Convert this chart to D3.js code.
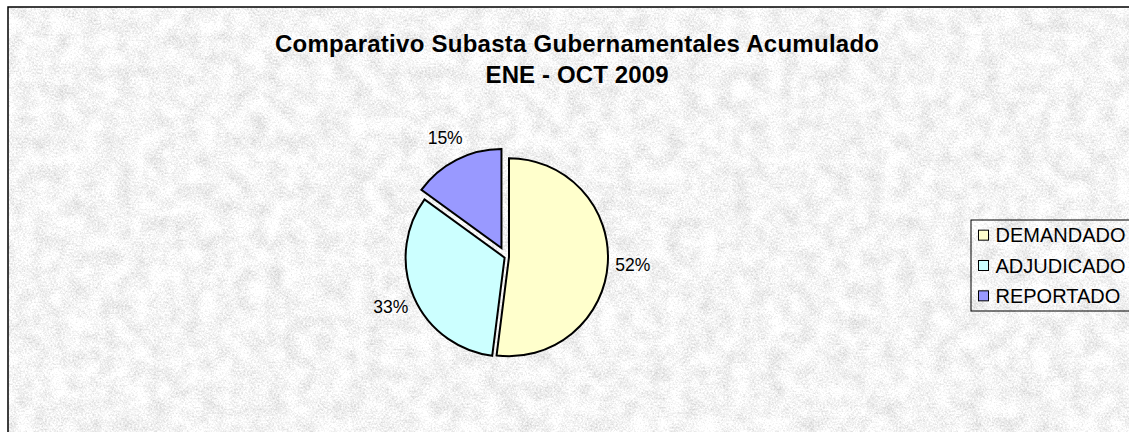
<!DOCTYPE html>
<html>
<head>
<meta charset="utf-8">
<script src="https://cdn.jsdelivr.net/npm/d3@7"></script>
<style>
  body { margin: 0; background: #fff; }
  svg text { font-family: "Liberation Sans", Arial, sans-serif; fill: #000; }
</style>
</head>
<body>
<div id="chart"></div>
<script>
// data
var categories = ["DEMANDADO", "ADJUDICADO", "REPORTADO"];
var values = [52, 33, 15];
var titleLines = ["Comparativo Subasta Gubernamentales Acumulado", "ENE - OCT 2009"];

var width = 1129, height = 432;
var colors = d3.scaleOrdinal().domain(categories).range(["#FFFFCC", "#CCFFFF", "#9999FF"]);
var explode = [3, 1.5, 10]; // px each slice is pulled out
var cx = 506, cy = 257, radius = 99;

var svg = d3.select("#chart").append("svg")
    .attr("width", width)
    .attr("height", height);

// granite-ish background: fine speckle + soft blotches
var defs = svg.append("defs");
var f = defs.append("filter").attr("id", "granite")
    .attr("x", 0).attr("y", 0).attr("width", "100%").attr("height", "100%");
f.append("feTurbulence").attr("type", "fractalNoise")
    .attr("baseFrequency", 0.55).attr("numOctaves", 3).attr("seed", 7).attr("result", "fine");
f.append("feColorMatrix").attr("in", "fine").attr("type", "matrix")
    .attr("values", "1 0 0 0 0  1 0 0 0 0  1 0 0 0 0  0 0 0 0 1").attr("result", "fineG");
f.append("feTurbulence").attr("type", "fractalNoise")
    .attr("baseFrequency", 0.06).attr("numOctaves", 2).attr("seed", 3).attr("result", "coarse");
f.append("feColorMatrix").attr("in", "coarse").attr("type", "matrix")
    .attr("values", "1 0 0 0 0  1 0 0 0 0  1 0 0 0 0  0 0 0 0 1").attr("result", "coarseG");
f.append("feComposite").attr("in", "fineG").attr("in2", "coarseG")
    .attr("operator", "arithmetic")
    .attr("k1", 0).attr("k2", 0.55).attr("k3", 0.35).attr("k4", 0.46);

svg.append("rect")
    .attr("x", 8).attr("y", 7)
    .attr("width", width + 10).attr("height", height + 10)
    .attr("filter", "url(#granite)");
svg.append("rect")
    .attr("x", 8).attr("y", 7)
    .attr("width", width + 10).attr("height", height + 10)
    .attr("fill", "none").attr("stroke", "#000").attr("stroke-width", 1.5);

// title, both lines centred on the same x
var titleX = 577;
svg.append("text")
    .attr("x", titleX).attr("y", 52)
    .attr("text-anchor", "middle")
    .attr("textLength", 604).attr("lengthAdjust", "spacing")
    .style("font-size", "24px").style("font-weight", "bold")
    .text(titleLines[0]);
svg.append("text")
    .attr("x", titleX).attr("y", 83)
    .attr("text-anchor", "middle")
    .attr("textLength", 183).attr("lengthAdjust", "spacing")
    .style("font-size", "24px").style("font-weight", "bold")
    .text(titleLines[1]);

// pie
var pie = d3.pie().sort(null).value(function(d){ return d; });
var arcs = pie(values);
var arc = d3.arc().innerRadius(0).outerRadius(radius);
var labelArc = d3.arc().innerRadius(124).outerRadius(124);

var slices = svg.append("g")
    .attr("transform", "translate(" + cx + "," + cy + ")")
  .selectAll("g")
  .data(arcs)
  .enter().append("g")
    .attr("transform", function(d, i){
      var a = (d.startAngle + d.endAngle) / 2;
      return "translate(" + (Math.sin(a) * explode[i]) + "," + (-Math.cos(a) * explode[i]) + ")";
    });

slices.append("path")
    .attr("d", arc)
    .attr("fill", function(d, i){ return colors(categories[i]); })
    .attr("stroke", "#000")
    .attr("stroke-width", 2)
    .attr("stroke-linejoin", "miter");

slices.append("text")
    .attr("transform", function(d){ return "translate(" + labelArc.centroid(d) + ")"; })
    .attr("text-anchor", "middle")
    .attr("dy", "0.36em")
    .style("font-size", "17.5px")
    .text(function(d){ return Math.round(d.value / d3.sum(values) * 100) + "%"; });

// legend
var legend = svg.append("g").attr("transform", "translate(971,220)");
legend.append("rect")
    .attr("width", 200).attr("height", 91)
    .attr("fill", "none").attr("stroke", "#000").attr("stroke-width", 1);

var row = d3.scaleBand().domain(categories).range([0, 91]);
var items = legend.selectAll(".item")
    .data(categories)
  .enter().append("g")
    .attr("class", "item")
    .attr("transform", function(d){ return "translate(0," + (row(d) + row.bandwidth() / 2) + ")"; });
items.append("rect")
    .attr("x", 7.5).attr("y", -5)
    .attr("width", 10).attr("height", 10)
    .attr("fill", function(d){ return colors(d); })
    .attr("stroke", "#000").attr("stroke-width", 1);
items.append("text")
    .attr("x", 24.5).attr("dy", "0.36em")
    .style("font-size", "20px")
    .text(function(d){ return d; });
</script>
</body>
</html>
